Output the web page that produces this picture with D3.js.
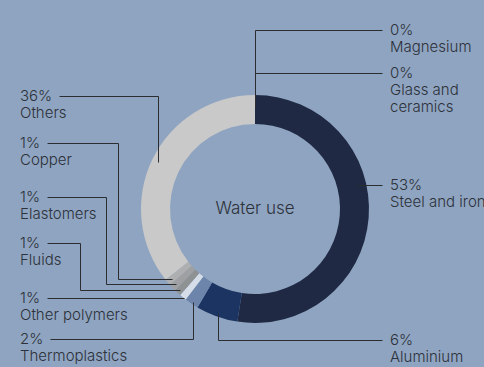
<!DOCTYPE html>
<html>
<head>
<meta charset="utf-8">
<script src="https://cdn.jsdelivr.net/npm/d3@7"></script>
<style>
  html, body { margin: 0; padding: 0; background: #8fa4c0; }
  svg { display: block; }
  text { font-family: Inter, "Open Sans", sans-serif; font-weight: 300; fill: #2c313a; }
</style>
</head>
<body>
<svg id="chart" width="484" height="367"></svg>
<script>
// Water use by material, share in percent (clockwise from 12 o'clock)
const materials = ["Steel and iron", "Aluminium", "Thermoplastics", "Other polymers",
                   "Fluids", "Elastomers", "Copper", "Others", "Magnesium", "Glass and ceramics"];
const shares = [53, 6, 2, 1, 1, 1, 1, 36, 0, 0];
const colors = ["#1f2944", "#1b3461", "#6d85ab", "#d5dde8",
                "#8f9293", "#9ea0a1", "#aeafb0", "#c9c9c9", "#aeb4bc", "#c0c4ca"];

const svg = d3.select("#chart");
const cx = 255, cy = 209;
const rOuter = 114, rInner = 85;

const data = materials.map((m, i) => ({ name: m, value: shares[i], color: colors[i] }));

const pie = d3.pie().value(d => d.value).sort(null);
const arcs = pie(data);
const arc = d3.arc().innerRadius(rInner).outerRadius(rOuter);

const g = svg.append("g").attr("transform", `translate(${cx},${cy})`);
g.selectAll("path.slice")
  .data(arcs.filter(a => a.value > 0))
  .join("path")
  .attr("class", "slice")
  .attr("d", arc)
  .attr("fill", d => d.data.color);

g.append("text")
  .attr("text-anchor", "middle")
  .attr("dy", "0.35em")
  .attr("y", -1)
  .style("font-size", "17px")
  .text("Water use");

// Label layout: side, label y, leader style, anchor radius, elbow x
const layout = {
  "Magnesium":          { side: "right", y: 30,  style: "drop", r: 102 },
  "Glass and ceramics": { side: "right", y: 73,  style: "drop", r: 102, lines: ["Glass and", "ceramics"] },
  "Steel and iron":     { side: "right", y: 185, style: "flat", r: 106 },
  "Aluminium":          { side: "right", y: 340, style: "drop", r: 111 },
  "Thermoplastics":     { side: "left",  y: 339, style: "drop", r: 111.5 },
  "Other polymers":     { side: "left",  y: 298, style: "flat", r: 112 },
  "Fluids":             { side: "left",  y: 243, style: "elbow", r: 110, ex: 80 },
  "Elastomers":         { side: "left",  y: 197, style: "elbow", r: 109, ex: 106 },
  "Copper":             { side: "left",  y: 143, style: "elbow", r: 108, ex: 118 },
  "Others":             { side: "left",  y: 96,  style: "drop", r: 108 }
};

const labelLeftX = 20, labelRightX = 390, lineH = 17;
const lineColor = "#2b2d31";

arcs.forEach(a => {
  const L = layout[a.data.name];
  const mid = a.value > 0 ? (a.startAngle + a.endAngle) / 2 : 0;
  let ax = cx + Math.sin(mid) * L.r;
  let ay = cy - Math.cos(mid) * L.r;
  if (L.style === "flat" && L.side === "right") {
    // horizontal leader entering the ring at the label's height
    ax = cx + Math.sqrt(L.r * L.r - (L.y - cy) * (L.y - cy));
    ay = L.y;
  }

  const tx = L.side === "left" ? labelLeftX : labelRightX;
  const lines = [`${a.data.value}%`].concat(L.lines || [a.data.name]);
  const texts = lines.map((s, i) =>
    svg.append("text")
      .attr("x", tx)
      .attr("y", L.y + i * lineH)
      .attr("dy", "0.35em")
      .style("font-size", "15px")
      .text(s));

  let pts;
  if (L.side === "left") {
    const pctW = texts[0].node().getComputedTextLength();
    const x0 = tx + pctW + 7;
    if (L.style === "drop") pts = [[x0, L.y], [ax, L.y], [ax, ay]];
    else if (L.style === "elbow") pts = [[x0, L.y], [L.ex, L.y], [L.ex, ay], [ax, ay]];
    else pts = [[x0, L.y], [ax, L.y]];
  } else {
    const x1 = labelRightX - 8;
    if (L.style === "drop") pts = [[x1, L.y], [ax, L.y], [ax, ay]];
    else pts = [[x1, L.y], [ax, ay]];
  }
  svg.append("path")
    .attr("d", d3.line()(pts.map(p => [Math.round(p[0]) + 0.5, Math.round(p[1]) + 0.5])))
    .attr("fill", "none")
    .attr("stroke", lineColor)
    .attr("stroke-width", 1);
});
</script>
</body>
</html>
